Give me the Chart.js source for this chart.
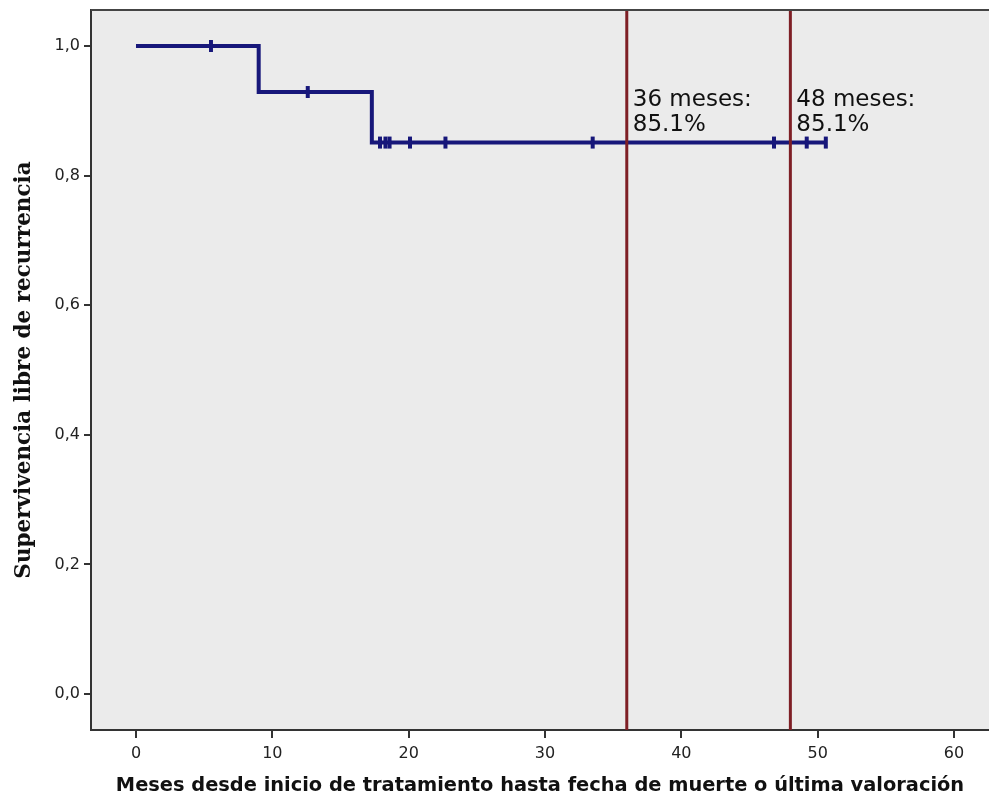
<!DOCTYPE html>
<html>
<head>
<meta charset="utf-8">
<script src="https://cdn.jsdelivr.net/npm/chart.js@4.4.1/dist/chart.umd.min.js"></script>
<style>
  body { margin: 0; background: #fff; overflow: hidden; }
  canvas { display: block; }
</style>
</head>
<body>
<canvas id="myChart" width="999" height="802"></canvas>
<script>
// Kaplan-Meier curve: time of each step and survival from there on
const stepTimes = [0, 9.0, 17.3, 50.6];
const stepSurv = [1.0, 0.929, 0.851, 0.851];

// censored cases (tick marks on the curve)
const censorTimes = [5.5, 12.6, 17.9, 18.3, 18.6, 20.1, 22.7, 33.5, 46.8, 49.2, 50.6];
const censorSurv = [1.0, 0.929, 0.851, 0.851, 0.851, 0.851, 0.851, 0.851, 0.851, 0.851, 0.851];

// reference lines at 36 and 48 months
const markTimes = [36, 48];
const markSurv = [0.851, 0.851];
const markLabels = [["36 meses:", "85.1%"], ["48 meses:", "85.1%"]];

const xTicks = [0, 10, 20, 30, 40, 50, 60];
const yTicks = [0, 0.2, 0.4, 0.6, 0.8, 1.0];
const xMin = -3.3, xMax = 62.57;
const yMin = -0.0556, yMax = 1.0556;

const xTitle = "Meses desde inicio de tratamiento hasta fecha de muerte o última valoración";
const yTitle = "Supervivencia libre de recurrencia";

const frame = {
  id: "frame",
  beforeDraw(chart) {
    const { ctx, chartArea: a } = chart;
    ctx.save();
    ctx.fillStyle = "#ebebeb";
    ctx.fillRect(a.left, a.top, a.right - a.left, a.bottom - a.top);
    ctx.restore();
  },
  afterDraw(chart) {
    const { ctx, chartArea: a } = chart;
    const xs = chart.scales.x, ys = chart.scales.y;
    ctx.save();
    ctx.strokeStyle = "#444";
    ctx.lineWidth = 2;
    ctx.beginPath();
    ctx.moveTo(a.left, a.top);
    ctx.lineTo(a.right, a.top);
    ctx.stroke();

    ctx.fillStyle = "#111";
    ctx.font = "23px 'DejaVu Sans'";
    ctx.textBaseline = "alphabetic";
    markTimes.forEach((t, i) => {
      const px = xs.getPixelForValue(t) + 6;
      const py = ys.getPixelForValue(markSurv[i]);
      ctx.fillText(markLabels[i][0], px, py - 37);
      ctx.fillText(markLabels[i][1], px, py - 12);
    });
    ctx.restore();
  },
};

const ctx = document.getElementById("myChart").getContext("2d");
const myChart = new Chart(ctx, {
  type: "scatter",
  data: {
    datasets: [
      ...markTimes.map((t) => ({
        data: [{ x: t, y: yMin }, { x: t, y: yMax }],
        showLine: true,
        borderColor: "#7e1f25",
        borderWidth: 3,
        pointRadius: 0,
        order: 0,
      })),
      {
        data: censorTimes.map((t, i) => ({ x: t, y: censorSurv[i] })),
        showLine: false,
        pointStyle: "line",
        rotation: 90,
        pointRadius: 6,
        borderColor: "#17177a",
        borderWidth: 4,
        order: 1,
      },
      {
        data: stepTimes.map((t, i) => ({ x: t, y: stepSurv[i] })),
        showLine: true,
        stepped: true,
        borderColor: "#17177a",
        borderWidth: 4,
        pointRadius: 0,
        order: 2,
      },
    ],
  },
  options: {
    responsive: false,
    animation: false,
    layout: { padding: { top: 10, left: 0, right: 0, bottom: 0 } },
    plugins: {
      legend: { display: false },
      tooltip: { enabled: false },
    },
    scales: {
      x: {
        type: "linear",
        min: xMin,
        max: xMax,
        afterBuildTicks: (s) => { s.ticks = xTicks.map((v) => ({ value: v })); },
        afterFit: (s) => { s.height = 72; s.paddingLeft = 0; s.paddingRight = 0; },
        ticks: {
          padding: 6,
          color: "#222",
          font: { family: "DejaVu Sans", size: 16 },
          maxRotation: 0,
        },
        grid: { drawOnChartArea: false, tickLength: 8, color: "#333", lineWidth: 2 },
        border: { color: "#333", width: 2 },
        title: {
          display: true,
          text: xTitle,
          color: "#111",
          font: { family: "DejaVu Sans", size: 19.4, weight: "bold" },
          padding: { top: 0, bottom: 4 },
        },
      },
      y: {
        type: "linear",
        min: yMin,
        max: yMax,
        afterBuildTicks: (s) => { s.ticks = yTicks.map((v) => ({ value: v })); },
        afterFit: (s) => { s.width = 91; s.paddingTop = 0; s.paddingBottom = 0; },
        ticks: {
          padding: 4,
          color: "#222",
          font: { family: "DejaVu Sans", size: 16 },
          callback: (v) => v.toFixed(1).replace(".", ","),
        },
        grid: { drawOnChartArea: false, tickLength: 7, color: "#333", lineWidth: 2 },
        border: { color: "#333", width: 2 },
        title: {
          display: true,
          text: yTitle,
          color: "#111",
          font: { family: "DejaVu Serif", size: 21.5, weight: "bold" },
          padding: { top: 12, bottom: 0 },
        },
      },
    },
  },
  plugins: [frame],
});
</script>
</body>
</html>
